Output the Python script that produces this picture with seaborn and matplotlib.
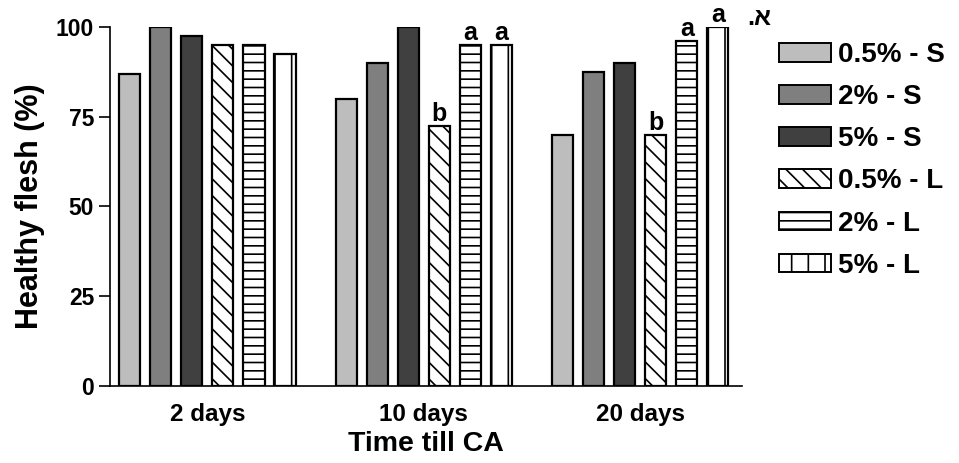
import matplotlib
matplotlib.use("Agg")
import matplotlib.pyplot as plt
from matplotlib.patches import Patch
import seaborn as sns
import pandas as pd

times = ["2 days", "10 days", "20 days"]
treatments = ["0.5% - S", "2% - S", "5% - S", "0.5% - L", "2% - L", "5% - L"]
values = {
    "0.5% - S": [87, 80, 70],
    "2% - S": [100, 90, 87.5],
    "5% - S": [97.5, 100, 90],
    "0.5% - L": [95, 72.5, 70],
    "2% - L": [95, 95, 96],
    "5% - L": [92.5, 95, 100],
}
letters = {
    "0.5% - L": ["", "b", "b"],
    "2% - L": ["", "a", "a"],
    "5% - L": ["", "a", "a"],
}
colors = ["#bdbdbd", "#7f7f7f", "#404040", "#ffffff", "#ffffff", "#ffffff"]
hatches = ["", "", "", "\\\\", "--", "|"]

rows = []
for t in treatments:
    for i, tm in enumerate(times):
        rows.append({"time": tm, "treatment": t, "value": values[t][i]})
df = pd.DataFrame(rows)

sns.set_style("ticks")
plt.rcParams["font.family"] = ["Liberation Sans", "DejaVu Sans"]
plt.rcParams["font.weight"] = "bold"
plt.rcParams["hatch.linewidth"] = 1.2
for k in ["text.color", "axes.labelcolor", "xtick.color", "ytick.color",
          "axes.edgecolor", "hatch.color"]:
    plt.rcParams[k] = "black"

fig = plt.figure(figsize=(9.59, 4.63), dpi=100)
ax = fig.add_axes([0.1147, 0.1663, 0.659, 0.7754])

sns.barplot(data=df, x="time", y="value", hue="treatment", order=times,
            hue_order=treatments, palette=colors, edgecolor="black",
            linewidth=1.6, width=0.861, gap=0.32, ax=ax, legend=False)

for cont, h, t in zip(ax.containers, hatches, treatments):
    for j, bar in enumerate(cont):
        bar.set_hatch(h)
        bar.set_edgecolor("black")
        if t in letters and letters[t][j]:
            ax.text(bar.get_x() + bar.get_width() / 2, bar.get_height(),
                    letters[t][j], ha="center", va="bottom", fontsize=18,
                    fontweight="bold", color="black")

ax.set_ylim(0, 100)
ax.set_xlim(-0.45, 2.47)
ax.set_yticks([0, 25, 50, 75, 100])
ax.tick_params(axis="y", labelsize=16.5, width=1.2, length=8, direction="out",
               colors="black")
ax.tick_params(axis="x", labelsize=17.5, length=0, pad=12, colors="black")
for lab in ax.get_xticklabels() + ax.get_yticklabels():
    lab.set_fontweight("bold")
sns.despine(ax=ax)
ax.spines["left"].set_linewidth(1.2)
ax.spines["bottom"].set_linewidth(1.2)
ax.spines["left"].set_color("black")
ax.spines["bottom"].set_color("black")
ax.set_ylabel("Healthy flesh (%)", fontsize=22, fontweight="bold", labelpad=8,
              color="black")
ax.set_xlabel("Time till CA", fontsize=20.5, fontweight="bold", labelpad=4,
              color="black")

handles = [Patch(facecolor=c, edgecolor="black", hatch=h, linewidth=1.4)
           for c, h in zip(colors, hatches)]
fig.legend(handles, treatments, loc="upper left", bbox_to_anchor=(0.801, 0.933),
           frameon=False, prop={"size": 20, "weight": "bold"},
           handlelength=1.85, handleheight=0.65, handletextpad=0.25,
           labelspacing=0.58, borderaxespad=0, labelcolor="black")
fig.text(0.779, 0.961, ".א", fontsize=18, fontweight="bold", va="center",
         ha="left", color="black")

fig.savefig("out.png", dpi=100)
